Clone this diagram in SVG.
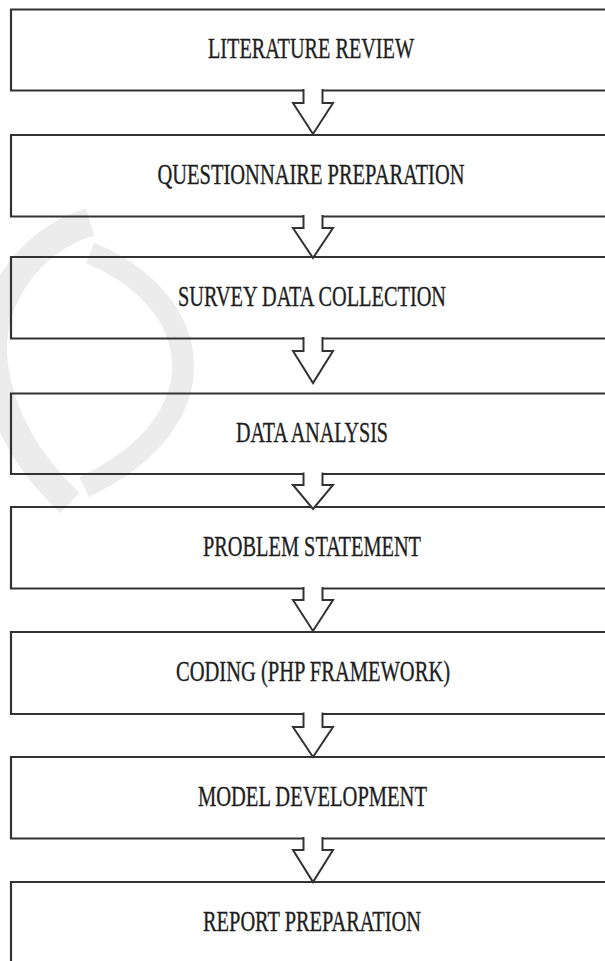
<svg xmlns="http://www.w3.org/2000/svg" width="605" height="961" viewBox="0 0 605 961">
<style>
.box{fill:none;stroke:#333;stroke-width:2.2}
.lbl{font-family:"Liberation Serif","Times New Roman",serif;font-size:30px;fill:#1e1e1e;stroke:#1e1e1e;stroke-width:0.35;text-anchor:middle}
.arr{fill:#fff;stroke:#333;stroke-width:2}
.wm{fill:none;stroke:#ececec;stroke-linecap:butt}
</style>
<rect width="605" height="961" fill="#fff"/>
<g id="watermark">
<path class="wm" stroke-width="28" d="M 90 222 C 30 240 -14 300 -6 365 C 2 425 35 470 70 503"/>
<path class="wm" stroke-width="22" d="M 90 253 C 205 300 225 420 84 487"/>
</g>
<g id="n1"><path class="box" d="M 610 9.5 H 11 V 90.5 H 610"/><text class="lbl" transform="scale(0.67 1)" x="464.2" y="58.5" textLength="307.5" lengthAdjust="spacingAndGlyphs">LITERATURE REVIEW</text></g>
<g id="n2"><path class="box" d="M 610 135 H 11 V 216.5 H 610"/><text class="lbl" transform="scale(0.67 1)" x="464.2" y="184.5" textLength="458.2" lengthAdjust="spacingAndGlyphs">QUESTIONNAIRE PREPARATION</text></g>
<g id="n3"><path class="box" d="M 610 257 H 11 V 338.5 H 610"/><text class="lbl" transform="scale(0.67 1)" x="465.7" y="306" textLength="400" lengthAdjust="spacingAndGlyphs">SURVEY DATA COLLECTION</text></g>
<g id="n4"><path class="box" d="M 610 393.5 H 11 V 474 H 610"/><text class="lbl" transform="scale(0.67 1)" x="465.7" y="442.5" textLength="226.9" lengthAdjust="spacingAndGlyphs">DATA ANALYSIS</text></g>
<g id="n5"><path class="box" d="M 610 507 H 11 V 588.5 H 610"/><text class="lbl" transform="scale(0.67 1)" x="465.7" y="556" textLength="325.4" lengthAdjust="spacingAndGlyphs">PROBLEM STATEMENT</text></g>
<g id="n6"><path class="box" d="M 610 632 H 11 V 714 H 610"/><text class="lbl" transform="scale(0.67 1)" x="467.2" y="681" textLength="409" lengthAdjust="spacingAndGlyphs">CODING (PHP FRAMEWORK)</text></g>
<g id="n7"><path class="box" d="M 610 757 H 11 V 838.5 H 610"/><text class="lbl" transform="scale(0.67 1)" x="466.4" y="806" textLength="341.8" lengthAdjust="spacingAndGlyphs">MODEL DEVELOPMENT</text></g>
<g id="n8"><path class="box" d="M 610 882 H 11 V 970"/><text class="lbl" transform="scale(0.67 1)" x="465.7" y="931" textLength="325.4" lengthAdjust="spacingAndGlyphs">REPORT PREPARATION</text></g>
<g id="connectors">
<path class="arr" d="M 303.5 89 V 103 H 293 L 313 134 L 333 103 H 322.5 V 89"/>
<path class="arr" d="M 303.5 215 V 228 H 293 L 313 258 L 333 228 H 322.5 V 215"/>
<path class="arr" d="M 303.5 337 V 351 H 293 L 313 383 L 333 351 H 322.5 V 337"/>
<path class="arr" d="M 303.5 472.5 V 485 H 293 L 313 509 L 333 485 H 322.5 V 472.5"/>
<path class="arr" d="M 303.5 587 V 600 H 293 L 313 631 L 333 600 H 322.5 V 587"/>
<path class="arr" d="M 303.5 712.5 V 727 H 293 L 313 757 L 333 727 H 322.5 V 712.5"/>
<path class="arr" d="M 303.5 837 V 850 H 293 L 313 882 L 333 850 H 322.5 V 837"/>
</g>
</svg>
